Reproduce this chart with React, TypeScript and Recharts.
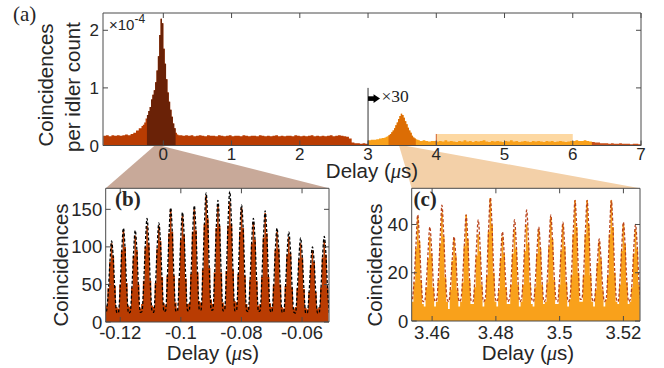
import React from "react";
import { ComposedChart, Area, Line, XAxis, YAxis, ReferenceArea, ReferenceLine } from "recharts";

const SANS = '"Liberation Sans", Arial, Helvetica, sans-serif';
const SERIF = '"Liberation Serif", "Times New Roman", serif';
const TEXT = "#262626";
const AXIS = "#4a4a4a";

// ---------- panel (a): coincidences per idler count (x1e-4) vs delay (us) ----------
// histogram pieces, each with its own first bin and bin width
const aLeftStart = -0.88;
const aLeftStep = 0.04;
const aLeft = [0.17, 0.18, 0.16, 0.18, 0.17, 0.18, 0.17, 0.18, 0.19, 0.18, 0.2, 0.22, 0.26, 0.3];

const aPeakStart = -0.32;
const aPeakStep = 0.02;
const aPeak = [
  0.34, 0.36, 0.4, 0.47, 0.53, 0.6, 0.67, 0.8, 0.88, 0.96,
  1.1, 1.3, 1.55, 1.92, 2.2, 2.12, 1.68, 1.42, 1.15, 0.92,
  0.76, 0.62, 0.5, 0.38, 0.3, 0.22, 0.19, 0.18,
];

const aMidStart = 0.24;
const aMidStep = 0.04;
const aMid = [
  0.18, 0.17, 0.18, 0.17, 0.18, 0.16, 0.17, 0.18, 0.17, 0.16,
  0.18, 0.17, 0.17, 0.16, 0.18, 0.17, 0.16, 0.17, 0.18, 0.16,
  0.17, 0.17, 0.16, 0.18, 0.17, 0.16, 0.17, 0.17, 0.16, 0.18,
  0.17, 0.16, 0.17, 0.16, 0.17, 0.18, 0.16, 0.17, 0.16, 0.17,
  0.17, 0.16, 0.18, 0.17, 0.16, 0.17, 0.16, 0.17, 0.18, 0.16,
  0.17, 0.16, 0.17, 0.16, 0.17, 0.18, 0.16, 0.17, 0.18, 0.17,
  0.16, 0.15, 0.12, 0.05, 0.04, 0.04, 0.03, 0.04, 0.03,
];

// x30 part
const aScaledStart = 3.0;
const aScaledStep = 0.04;
const aScaled = [0.09, 0.1, 0.1, 0.11, 0.12, 0.13];

const aScaledPeakStart = 3.24;
const aScaledPeakStep = 0.02;
const aScaledPeak = [
  0.14, 0.15, 0.16, 0.18, 0.2, 0.23, 0.26, 0.3, 0.35, 0.4,
  0.46, 0.51, 0.55, 0.53, 0.48, 0.42, 0.37, 0.31, 0.26, 0.22,
  0.17, 0.14, 0.12, 0.11, 0.1, 0.09,
];

const aPostStart = 3.76;
const aPostStep = 0.04;
const aPost = [
  0.08, 0.09, 0.08, 0.07, 0.08, 0.08,
  0.07, 0.08, 0.07, 0.09, 0.07, 0.08, 0.07, 0.06, 0.08, 0.07,
  0.09, 0.07, 0.08, 0.06, 0.08, 0.07, 0.08, 0.09, 0.07, 0.06,
  0.08, 0.07, 0.08, 0.07, 0.06, 0.08, 0.07, 0.09, 0.07, 0.08,
  0.06, 0.07, 0.08, 0.07, 0.06, 0.08, 0.07, 0.08, 0.07, 0.06,
  0.08, 0.07, 0.08, 0.06, 0.07, 0.08, 0.07, 0.06, 0.07, 0.08,
  0.08, 0.09, 0.08, 0.08, 0.09, 0.08, 0.07, 0.06, 0.05, 0.05,
  0.04, 0.04, 0.04, 0.03, 0.04, 0.03, 0.03, 0.04, 0.03, 0.03,
  0.03, 0.02, 0.03, 0.03, 0.02, 0.02,
];

const aXDomain = [-0.884, 7];
const aYDomain = [0, 2.3];
const aXTicks = [0, 1, 2, 3, 4, 5, 6, 7];
const aYTicks = [0, 1, 2];

// ---------- panel (b): zoom on the main peak ----------
const bStart = -0.1248;
const bStep = 0.000557;
const bBars = [
  22, 45, 80, 105, 88, 48, 20,
  18, 50, 95, 122, 100, 52, 22,
  20, 46, 88, 115, 96, 50, 18,
  24, 55, 100, 128, 105, 55, 22,
  20, 52, 98, 128, 108, 60, 25,
  22, 62, 118, 150, 120, 62, 26,
  18, 58, 110, 141, 116, 58, 24,
  25, 64, 120, 150, 122, 66, 28,
  26, 70, 130, 168, 138, 72, 30,
  24, 66, 125, 155, 128, 66, 26,
  22, 68, 128, 160, 130, 70, 28,
  26, 64, 120, 152, 125, 62, 24,
  20, 56, 105, 133, 110, 55, 22,
  24, 60, 112, 145, 118, 60, 25,
  20, 50, 96, 120, 98, 50, 20,
  18, 48, 90, 113, 92, 46, 18,
  20, 45, 84, 105, 86, 44, 19,
  17, 40, 76, 96, 80, 40, 18,
  20, 46, 86, 108, 90, 46, 20,
];
const bFit = [
  14, 38, 80, 108, 84, 38, 13,
  12, 42, 94, 125, 96, 42, 12,
  13, 44, 92, 122, 94, 42, 13,
  14, 50, 104, 138, 106, 48, 14,
  13, 48, 100, 132, 104, 50, 14,
  15, 56, 116, 152, 118, 56, 15,
  14, 54, 112, 146, 114, 54, 15,
  15, 58, 118, 155, 120, 58, 16,
  16, 64, 130, 172, 134, 64, 16,
  16, 60, 124, 162, 126, 60, 15,
  16, 64, 132, 174, 134, 62, 15,
  15, 58, 120, 156, 122, 58, 15,
  14, 52, 106, 138, 108, 52, 14,
  15, 56, 114, 148, 116, 56, 15,
  13, 46, 96, 125, 98, 46, 13,
  13, 44, 92, 120, 94, 44, 13,
  12, 42, 86, 112, 86, 42, 12,
  12, 38, 78, 100, 80, 38, 12,
  12, 42, 88, 114, 90, 42, 12,
];
const bXDomain = [-0.1248, -0.0511];
const bYDomain = [0, 178];
const bXTicks = [-0.12, -0.1, -0.08, -0.06];
const bYTicks = [0, 50, 100, 150];

// ---------- panel (c): zoom on the x30 peak ----------
const cStart = 3.4536;
const cStep = 0.000542;
const cBars = [
  8, 16, 30, 43, 33, 17, 7,
  6, 14, 26, 35, 28, 14, 6,
  8, 17, 32, 45, 35, 18, 8,
  5, 13, 25, 34, 27, 13, 6,
  8, 16, 31, 44, 34, 17, 7,
  7, 14, 27, 36, 29, 15, 6,
  9, 19, 37, 51, 40, 20, 8,
  6, 13, 26, 35, 28, 14, 7,
  7, 15, 28, 38, 30, 15, 6,
  8, 15, 29, 40, 32, 16, 7,
  6, 14, 28, 38, 30, 15, 7,
  8, 16, 31, 43, 34, 17, 7,
  7, 15, 29, 40, 31, 16, 6,
  9, 19, 36, 50, 39, 20, 8,
  8, 19, 36, 50, 40, 19, 8,
  6, 13, 24, 33, 26, 13, 6,
  9, 19, 36, 50, 39, 20, 8,
  7, 15, 29, 40, 32, 16, 7,
  8, 14, 28, 38, 30, 15, 8,
];
const cFit = [
  9, 18, 32, 44, 33, 17, 8,
  8, 16, 29, 39, 30, 16, 8,
  9, 19, 35, 48, 36, 19, 9,
  8, 15, 26, 35, 27, 14, 8,
  9, 18, 32, 44, 33, 17, 8,
  8, 17, 31, 42, 32, 17, 8,
  9, 20, 38, 51, 39, 20, 9,
  8, 15, 27, 37, 28, 15, 8,
  9, 17, 31, 42, 32, 17, 8,
  9, 18, 34, 46, 35, 18, 9,
  8, 16, 29, 39, 30, 16, 8,
  9, 18, 32, 44, 33, 18, 9,
  8, 17, 30, 41, 31, 16, 8,
  9, 20, 37, 50, 38, 20, 9,
  9, 20, 37, 50, 38, 20, 9,
  8, 14, 25, 34, 26, 14, 8,
  9, 20, 37, 50, 38, 20, 9,
  8, 17, 30, 41, 31, 16, 8,
  9, 16, 30, 40, 31, 16, 9,
];
const cXDomain = [3.4536, 3.5252];
const cYDomain = [0, 55];
const cXTicks = [3.46, 3.48, 3.5, 3.52];
const cYTicks = [0, 20, 40];

// bin left edges from first bin + width
const bins = (start: number, step: number, values: number[], shift = 0) =>
  values.map((v, i) => ({ x: +(start + (i + shift) * step).toFixed(6), y: v }));

const aBins = [
  ...bins(aLeftStart, aLeftStep, aLeft),
  ...bins(aPeakStart, aPeakStep, aPeak),
  ...bins(aMidStart, aMidStep, aMid),
  ...bins(aScaledStart, aScaledStep, aScaled),
  ...bins(aScaledPeakStart, aScaledPeakStep, aScaledPeak),
  ...bins(aPostStart, aPostStep, aPost),
];
const aRows = aBins.map(({ x, y }) => ({
  x,
  raw: x < 2.999 ? y : x < 3.001 ? 0 : null,
  dark: x > -0.241 && x < 0.181 ? y : null,
  scaled: x > 2.999 && x < 6.321 ? y : null,
  peak: x > 3.299 && x < 3.701 ? y : null,
  tail: x > 6.279 ? y : null,
}));

const bRows = bins(bStart, bStep, bBars);
const bFitRows = bins(bStart, bStep, bFit, 0.5);
const cRows = bins(cStart, cStep, cBars);
const cFitRows = bins(cStart, cStep, cFit, 0.5);

// colours
const RED = "#b93c02";
const DARK = "#6a2207";
const ORANGE = "#f9a11b";
const DARK_ORANGE = "#dc6d05";
const TAIL = "#c9501a";
const LIGHT = "#fdd8a2";

// panel (a) plot box on the page, used for the zoom connectors
const A_LEFT = 103;
const A_RIGHT = 641;
const A_BOTTOM = 145.5;
const xa = (v: number) => A_LEFT + ((v - aXDomain[0]) / (aXDomain[1] - aXDomain[0])) * (A_RIGHT - A_LEFT);

function frameAxes(xDomain: number[], yDomain: number[], xTicks: number[], yTicks: number[], xMargin: number, yMargin: number, fontSize: number) {
  const tick = { fontSize, fill: TEXT, fontFamily: SANS };
  const blank = () => "";
  return [
    <XAxis key="xb" type="number" dataKey="x" domain={xDomain} allowDataOverflow ticks={xTicks} interval={0}
      height={1} tickSize={-5} tickMargin={xMargin} stroke={AXIS} tick={tick} />,
    <XAxis key="xt" xAxisId="top" orientation="top" type="number" dataKey="x" domain={xDomain} allowDataOverflow
      ticks={xTicks} interval={0} height={1} tickSize={-5} stroke={AXIS} tickFormatter={blank} />,
    <YAxis key="yl" type="number" domain={yDomain} allowDataOverflow ticks={yTicks} interval={0}
      width={1} tickSize={-5} tickMargin={yMargin} stroke={AXIS} tick={tick} />,
    <YAxis key="yr" yAxisId="r" orientation="right" type="number" domain={yDomain} allowDataOverflow ticks={yTicks}
      interval={0} width={1} tickSize={-5} stroke={AXIS} tickFormatter={blank} />,
  ];
}

function TimesThirty(props: any) {
  const { x, y } = props.viewBox;
  return (
    <g>
      <rect x={x} y={y + 8.4} width={6} height={4.6} fill="#000" />
      <polygon points={`${x + 5.5},${y + 6.4} ${x + 12},${y + 10.7} ${x + 5.5},${y + 15}`} fill="#000" />
      <text x={x + 13.4} y={y + 13.8} fontFamily={SERIF} fontSize={17.5} fill="#222">×30</text>
    </g>
  );
}

function PanelA() {
  return (
    <ComposedChart width={664} height={170} data={aRows} margin={{ top: 12, right: 22, bottom: 23.5, left: 102 }}>
      {frameAxes(aXDomain, aYDomain, aXTicks, aYTicks, 7.5, 9, 17)}
      <ReferenceArea x1={4} x2={6} y1={0} y2={0.2} fill={LIGHT} fillOpacity={1} stroke="none" />
      <Area type="stepAfter" dataKey="raw" fill={RED} fillOpacity={1} stroke="none" isAnimationActive={false} dot={false} activeDot={false} />
      <Area type="stepAfter" dataKey="dark" fill={DARK} fillOpacity={1} stroke="none" isAnimationActive={false} dot={false} activeDot={false} />
      <Area type="stepAfter" dataKey="scaled" fill={ORANGE} fillOpacity={1} stroke="none" isAnimationActive={false} dot={false} activeDot={false} />
      <Area type="stepAfter" dataKey="peak" fill={DARK_ORANGE} fillOpacity={1} stroke="none" isAnimationActive={false} dot={false} activeDot={false} />
      <Area type="stepAfter" dataKey="tail" fill={TAIL} fillOpacity={1} stroke="none" isAnimationActive={false} dot={false} activeDot={false} />
      <ReferenceLine segment={[{ x: 4, y: 0 }, { x: 4, y: 0.2 }]} stroke="#d0602a" strokeWidth={1} />
      <ReferenceLine segment={[{ x: 3, y: 0 }, { x: 3, y: 1.0 }]} stroke="#333" strokeWidth={1} label={(p: any) => <TimesThirty {...p} />} />
    </ComposedChart>
  );
}

function PanelB() {
  return (
    <ComposedChart width={340} height={188} data={bRows} margin={{ top: 7.3, right: 10, bottom: 45, left: 104.7 }}>
      {frameAxes(bXDomain, bYDomain, bXTicks, bYTicks, 9, 8.5, 18.5)}
      <Area type="stepAfter" dataKey="y" fill={RED} fillOpacity={1} stroke="none" isAnimationActive={false} dot={false} activeDot={false} />
      <Line data={bFitRows} type="monotone" dataKey="y" stroke="#000" strokeWidth={1.3} strokeDasharray="3 2" dot={false} activeDot={false} isAnimationActive={false} />
    </ComposedChart>
  );
}

function PanelC() {
  return (
    <ComposedChart width={334} height={188} data={cRows} margin={{ top: 7.3, right: 23, bottom: 46, left: 80.7 }}>
      {frameAxes(cXDomain, cYDomain, cXTicks, cYTicks, 10, 8.5, 18.5)}
      <Area type="stepAfter" dataKey="y" fill={ORANGE} fillOpacity={1} stroke="none" isAnimationActive={false} dot={false} activeDot={false} />
      <Line data={cFitRows} type="monotone" dataKey="y" stroke="#b8431c" strokeWidth={1.3} strokeDasharray="3 2" dot={false} activeDot={false} isAnimationActive={false} />
    </ComposedChart>
  );
}

function DelayLabel({ x, y }: { x: number; y: number }) {
  return (
    <text x={x} y={y} textAnchor="middle" fontFamily={SANS} fontSize={20.5} fill={TEXT}>
      Delay (<tspan fontFamily={SERIF} fontStyle="italic">μ</tspan>s)
    </text>
  );
}

function YTitle({ x, y, text }: { x: number; y: number; text: string }) {
  return (
    <text transform={`translate(${x},${y}) rotate(-90)`} textAnchor="middle" fontFamily={SANS} fontSize={20.5} fill={TEXT}>
      {text}
    </text>
  );
}

export default function App() {
  const bTop = 188.3;
  const trapB = `${xa(bXDomain[0])},${A_BOTTOM} ${xa(bXDomain[1])},${A_BOTTOM} 329,${bTop} 105.7,${bTop}`;
  const trapC = `${xa(cXDomain[0])},${A_BOTTOM} ${xa(cXDomain[1])},${A_BOTTOM} 640,${bTop} 411.7,${bTop}`;
  return (
    <div style={{ position: "absolute", left: 0, top: 0, width: 664, height: 368, background: "#fff", overflow: "hidden" }}>
      <svg width={664} height={368} style={{ position: "absolute", left: 0, top: 0 }}>
        <polygon points={trapB} fill="#c8a999" />
        <polygon points={trapC} fill="#f3d0a8" />
      </svg>
      <div style={{ position: "absolute", left: 0, top: 0 }}>
        <PanelA />
      </div>
      <div style={{ position: "absolute", left: 0, top: 180 }}>
        <PanelB />
      </div>
      <div style={{ position: "absolute", left: 330, top: 180 }}>
        <PanelC />
      </div>
      <svg width={664} height={368} style={{ position: "absolute", left: 0, top: 0, pointerEvents: "none" }}>
        <text x={13} y={21} fontFamily={SERIF} fontSize={21} fill={TEXT}>(a)</text>
        <text x={115} y={206} fontFamily={SERIF} fontSize={21} fontWeight="bold" fill={TEXT}>(b)</text>
        <text x={413.5} y={206} fontFamily={SERIF} fontSize={21} fontWeight="bold" fill={TEXT}>(c)</text>
        <text x={109} y={30} fontFamily={SANS} fontSize={15} fill={TEXT}>
          ×10<tspan dy={-7} fontSize={12}>-4</tspan>
        </text>
        <YTitle x={53.3} y={85} text="Coincidences" />
        <YTitle x={80} y={87} text="per idler count" />
        <YTitle x={68.3} y={265} text="Coincidences" />
        <YTitle x={381.7} y={265} text="Coincidences" />
        <DelayLabel x={372} y={178} />
        <DelayLabel x={213} y={359.5} />
        <DelayLabel x={528} y={359.5} />
      </svg>
    </div>
  );
}
